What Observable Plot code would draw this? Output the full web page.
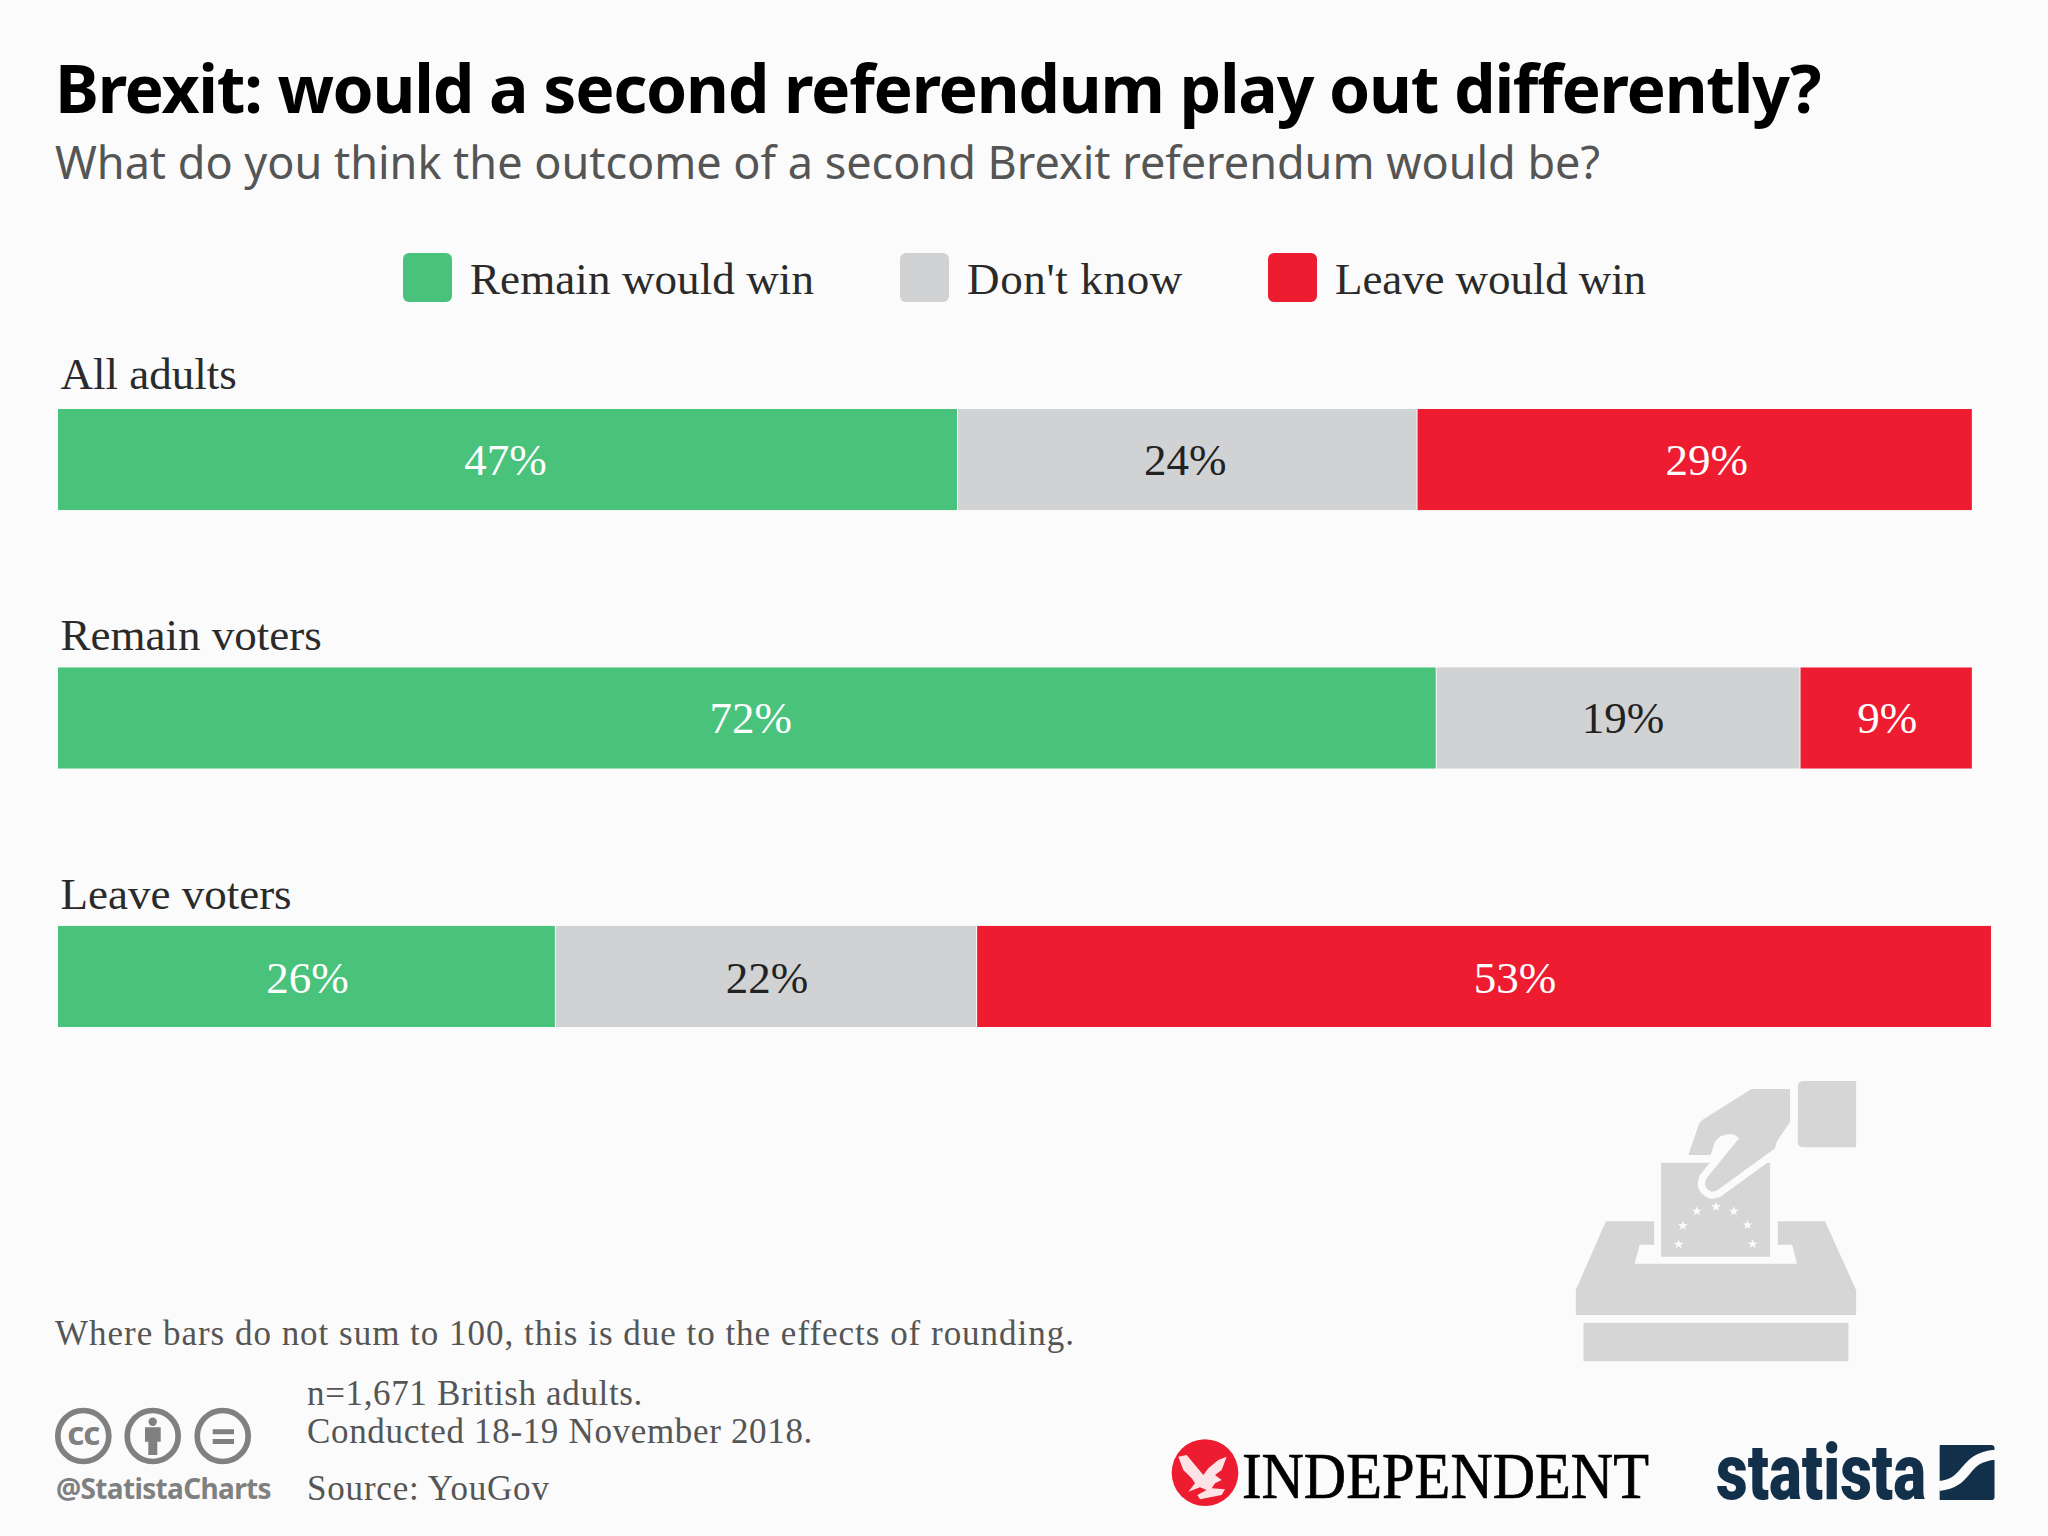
<!DOCTYPE html>
<html><head><meta charset="utf-8">
<script src="https://cdn.jsdelivr.net/npm/d3@7"></script>
<script src="https://cdn.jsdelivr.net/npm/@observablehq/plot@0.6"></script>
<style>
html,body{margin:0;padding:0;background:#fbfbfb}
#page{position:relative;width:2048px;height:1536px;overflow:hidden;background:#fbfbfb}
#page>.t{position:absolute;white-space:pre;line-height:1;transform-origin:0 50%}
#page>.sw{position:absolute;border-radius:6px}
#page>svg{position:absolute}
#chart{position:absolute;left:0;top:340px}
#chart svg{display:block;background:transparent}
</style></head>
<body><div id="page"><div id="chart"></div>
<svg style="left:40px;top:1390px" width="230" height="80" viewBox="0 0 230 80">
  <g fill="none" stroke="#808080" stroke-width="5.7"><circle cx="43.3" cy="46" r="25.5"/><circle cx="112.7" cy="46" r="25.5"/><circle cx="182.7" cy="46" r="25.5"/></g>
  <text x="43.3" y="55" text-anchor="middle" font-family="Noto Sans" font-weight="700" font-size="33" letter-spacing="-1" fill="#808080">cc</text>
  <circle cx="112.7" cy="31.7" r="4.2" fill="#808080"/><path d="M105 37.3h15.7v14.4h-3.4V65h-9V51.7H105z" fill="#808080"/>
  <path d="M172.7 39.3H194v5H172.7zM172.7 49H194v5H172.7z" fill="#808080"/>
</svg>
<svg style="left:1500px;top:1050px" width="548" height="486" viewBox="0 0 1568 1458" preserveAspectRatio="none">
  <g fill="#d6d6d6">
    <path d="M852 110q0-17 17-17H1019V292H869q-17 0-17-17z"/>
    <path d="M461 338H773V620H461z"/>
    <path d="M830 117H720L582 208L570 220L539 315H603L615 275Q634 245 672 255L684 265L591 385Q578 415 606 425L620 422L787 295L792 275L830 215Z" stroke="#fbfbfb" stroke-width="42" paint-order="stroke"/>
    <path d="M303 514H441V584H400L385 641H850L836 584H795V514H930L1019 720V795H217V720Z"/>
    <path d="M239 818H997V934H239z"/>
  </g>
  <g fill="#fbfbfb" id="stars"></g>
  <path d="M1258 1185H1405q10 0 10 10V1340q0 10-10 10H1258z" fill="#12304a"/>
  <path d="M1256 1308C1345 1300 1320 1222 1417 1214" fill="none" stroke="#fbfbfb" stroke-width="30"/>
</svg>
<svg style="left:1150px;top:1400px" width="100" height="136" viewBox="0 0 300 408">
  <circle cx="165" cy="218" r="100" fill="#ed1c30"/>
  <path d="M85 170L110 165L135 195L160 225L175 205L205 180L230 170L215 210L195 225L215 240L195 250L185 265L225 268L215 285L150 298L142 285L170 270L150 262L115 275L135 250L125 235L100 210Z" fill="#fff" opacity=".88"/>
</svg>
</div>
<script>
const groups = ["All adults", "Remain voters", "Leave voters"];
const outcomes = ["Remain would win", "Don't know", "Leave would win"];
const remainWouldWin = [47, 72, 26];
const dontKnow = [24, 19, 22];
const leaveWouldWin = [29, 9, 53];
const outcomeColors = ["#49c27b", "#d0d2d3", "#ed1c30"];
const outcomeInk = ["#ffffff", "#222222", "#ffffff"];
const series = [remainWouldWin, dontKnow, leaveWouldWin];
const rows = groups.flatMap((group, g) => outcomes.map((outcome, o) => ({group, g, o, outcome, value: series[o][g], ink: outcomeInk[o]})));

const serif = "Liberation Serif", sans = "Noto Sans";
// the reference's value labels and row titles sit slightly off their bars' centres
const labelDx = [[-3, -3, 11], [3, 4, 0], [0, 0, 30]];
const labelDy = [0.5, 0, 1.5];
const groupDy = [-85, -82.5, -82];

const chart = Plot.plot({
  width: 2048, height: 720,
  margin: 0,
  style: {background: "transparent"},
  x: {domain: [0, 101], range: [58, 1992], axis: null},
  y: {domain: groups, range: [69, 687], paddingInner: 0.609, paddingOuter: 0, round: false, axis: null},
  color: {domain: outcomes, range: outcomeColors},
  marks: [
    Plot.barX(rows, Plot.stackX({x: "value", y: "group", fill: "outcome", insetRight: 1})),
    ...rows.map(r => Plot.text(rows, Plot.filter(d => d === r, Plot.stackX({
      x: "value", y: "group", z: "outcome", text: d => d.value + "%", fill: d => d.ink,
      fontFamily: serif, fontSize: 45, lineAnchor: "middle", dx: labelDx[r.g][r.o], dy: labelDy[r.g]
    })))),
    ...groups.map((g, i) => Plot.text([g], {x: () => 0, y: d => d, text: d => d, textAnchor: "start", dx: 2, dy: groupDy[i], fill: "#2a2a2a", fontFamily: serif, fontSize: 45, lineAnchor: "middle"}))
  ]
});
document.getElementById("chart").append(chart);

const page = document.getElementById("page");
const ctx = document.createElement("canvas").getContext("2d");
function put(text, x, base, family, size, weight, color, target, squeeze) {
  const el = document.createElement("div");
  el.className = "t"; el.textContent = text;
  ctx.font = `${weight} ${size}px "${family}"`;
  const m = ctx.measureText(text);
  const A = m.fontBoundingBoxAscent, D = m.fontBoundingBoxDescent;
  const top = base - ((size - (A + D)) / 2 + A);
  Object.assign(el.style, {left: x + "px", top: top + "px", fontFamily: `"${family}"`, fontSize: size + "px", fontWeight: weight, color});
  if (squeeze) el.style.transform = `scaleX(${target / m.width})`;
  else if (target) el.style.letterSpacing = ((target - m.width) / text.length) + "px";
  page.append(el);
  return el;
}
const title = "Brexit: would a second referendum play out differently?";
const subtitle = "What do you think the outcome of a second Brexit referendum would be?";
put(title, 55, 113, sans, 66, 700, "#000", 1765);
put(subtitle, 55, 179, sans, 45, 400, "#555", 1545);

const legendSwatchX = [403, 900, 1268], legendTextX = [470, 967, 1335], legendWidths = [344, 216, 311];
outcomes.forEach((o, i) => {
  const s = document.createElement("div");
  s.className = "sw";
  Object.assign(s.style, {left: legendSwatchX[i] + "px", top: "253px", width: "49px", height: "49px", background: outcomeColors[i]});
  page.append(s);
  put(o, legendTextX[i], 294, serif, 45, 400, "#2a2a2a", legendWidths[i]);
});

const noteColor = "#555";
put("Where bars do not sum to 100, this is due to the effects of rounding.", 55, 1345, serif, 35, 400, noteColor, 1020);
put("n=1,671 British adults.", 307, 1405, serif, 35, 400, noteColor, 336);
put("Conducted 18-19 November 2018.", 307, 1443, serif, 35, 400, noteColor, 506);
put("Source: YouGov", 307, 1500, serif, 35, 400, noteColor, 244);
put("@StatistaCharts", 56, 1499, sans, 28, 700, "#808080", 215);
put("INDEPENDENT", 1242, 1498, serif, 65, 400, "#000", 407, true).style.webkitTextStroke = "0.7px #000";
put("statista", 1716, 1499, "Roboto", 78, 900, "#12304a", 210, true);

const starsAt = [[511,583],[523,527],[563,484],[618,470],[669,484],[708,525],[723,582]];
const star = ([x,y]) => {
  let d = "";
  for (let i = 0; i < 10; i++) {
    const r = i % 2 ? 6 : 15, a = -Math.PI / 2 + i * Math.PI / 5;
    d += (i ? "L" : "M") + (x + r * Math.cos(a)) + " " + (y + r * Math.sin(a));
  }
  return `<path d="${d}Z"/>`;
};
document.getElementById("stars").innerHTML = starsAt.map(star).join("");
</script></body></html>
